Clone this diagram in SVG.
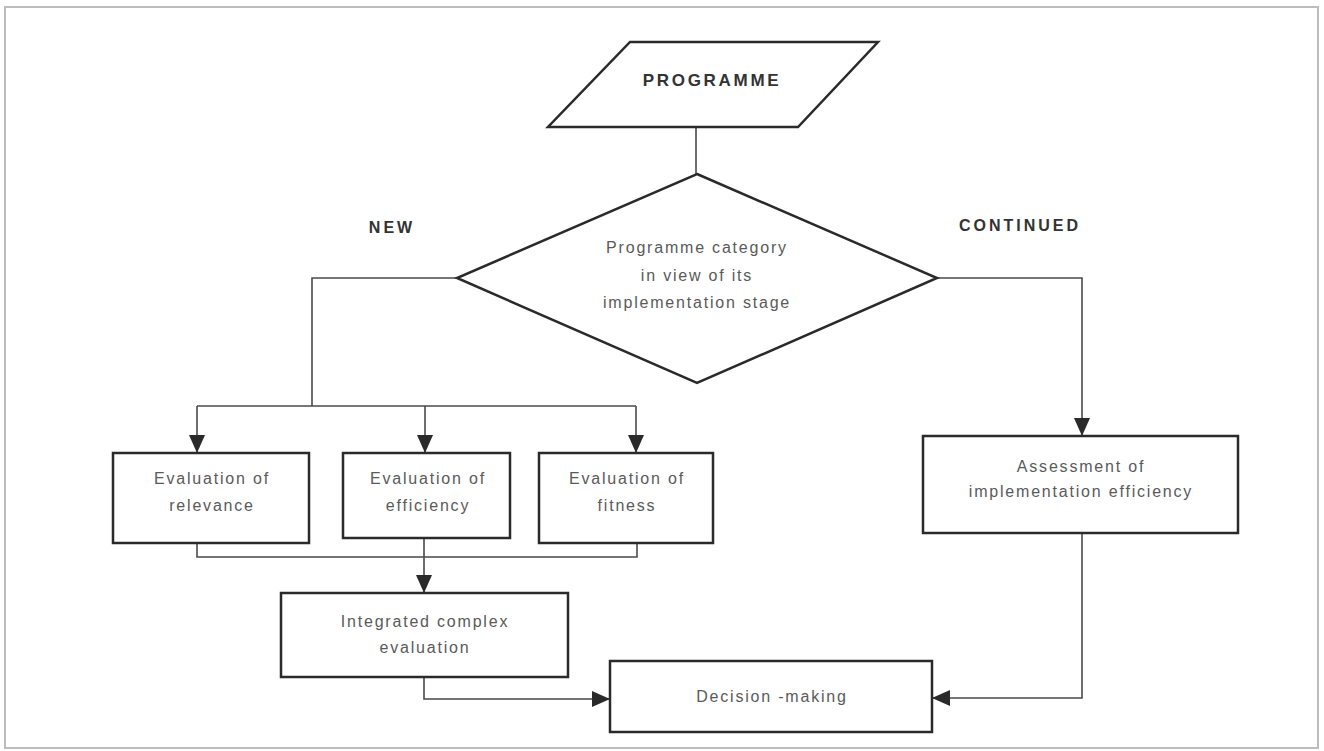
<svg xmlns="http://www.w3.org/2000/svg" width="1324" height="751" viewBox="0 0 1324 751">
<style>
.node{fill:#fff;stroke:#2a2a2a;stroke-width:2.5}
.conn{fill:none;stroke:#4a4a4a;stroke-width:1.6}
.t{font-family:"Liberation Sans",Arial,sans-serif;font-size:16px;fill:#5a5a5a;letter-spacing:1.8px;text-anchor:middle}
.b{font-family:"Liberation Sans",Arial,sans-serif;font-weight:bold;fill:#333;text-anchor:middle}
</style>
<defs>
<marker id="ah" viewBox="0 0 18 16" refX="18" refY="8" markerWidth="18" markerHeight="16" markerUnits="userSpaceOnUse" orient="auto">
<path d="M0,0 L18,8 L0,16 Z" fill="#2a2a2a"/>
</marker>
</defs>
<rect x="0" y="0" width="1324" height="751" fill="#fff"/>
<rect x="5" y="7" width="1313" height="741" fill="none" stroke="#bdbdbd" stroke-width="2"/>
<g id="connectors">
<path class="conn" d="M696,127 V174"/>
<path class="conn" d="M457,278 H312 V406"/>
<path class="conn" d="M197,406 H636"/>
<path class="conn" d="M197,406 V453" marker-end="url(#ah)"/>
<path class="conn" d="M425,406 V453" marker-end="url(#ah)"/>
<path class="conn" d="M636,406 V453" marker-end="url(#ah)"/>
<path class="conn" d="M937,278 H1082 V436" marker-end="url(#ah)"/>
<path class="conn" d="M197,543 V557 H637 V543"/>
<path class="conn" d="M424,538 V593" marker-end="url(#ah)"/>
<path class="conn" d="M424,677 V699 H610" marker-end="url(#ah)"/>
<path class="conn" d="M1082,533 V698 H932" marker-end="url(#ah)"/>
</g>
<g id="programme">
<polygon class="node" points="630,42 878,42 798,127 548,127"/>
<text class="b" x="712" y="86" font-size="17" letter-spacing="2.7">PROGRAMME</text>
</g>
<g id="category">
<polygon class="node" points="697,174 937,278 697,383 457,278"/>
<text class="t" x="697" y="253" letter-spacing="2.1">Programme category</text>
<text class="t" x="697" y="281" letter-spacing="2.1">in view of its</text>
<text class="t" x="697" y="308" letter-spacing="2.1">implementation stage</text>
</g>
<g id="label-new"><text class="b" x="392" y="233" font-size="16" letter-spacing="3">NEW</text></g>
<g id="label-continued"><text class="b" x="1020" y="231" font-size="16" letter-spacing="3">CONTINUED</text></g>
<g id="relevance">
<rect class="node" x="113" y="453" width="196" height="90"/>
<text class="t" x="212" y="484">Evaluation of</text>
<text class="t" x="212" y="511">relevance</text>
</g>
<g id="efficiency">
<rect class="node" x="343" y="453" width="167" height="85"/>
<text class="t" x="428" y="484">Evaluation of</text>
<text class="t" x="428" y="511">efficiency</text>
</g>
<g id="fitness">
<rect class="node" x="539" y="453" width="174" height="90"/>
<text class="t" x="627" y="484">Evaluation of</text>
<text class="t" x="627" y="511">fitness</text>
</g>
<g id="assessment">
<rect class="node" x="923" y="436" width="315" height="97"/>
<text class="t" x="1081" y="472">Assessment of</text>
<text class="t" x="1081" y="497">implementation efficiency</text>
</g>
<g id="integrated">
<rect class="node" x="281" y="593" width="287" height="84"/>
<text class="t" x="425" y="627">Integrated complex</text>
<text class="t" x="425" y="653">evaluation</text>
</g>
<g id="decision">
<rect class="node" x="610" y="661" width="322" height="71"/>
<text class="t" x="772" y="702">Decision -making</text>
</g>
</svg>
